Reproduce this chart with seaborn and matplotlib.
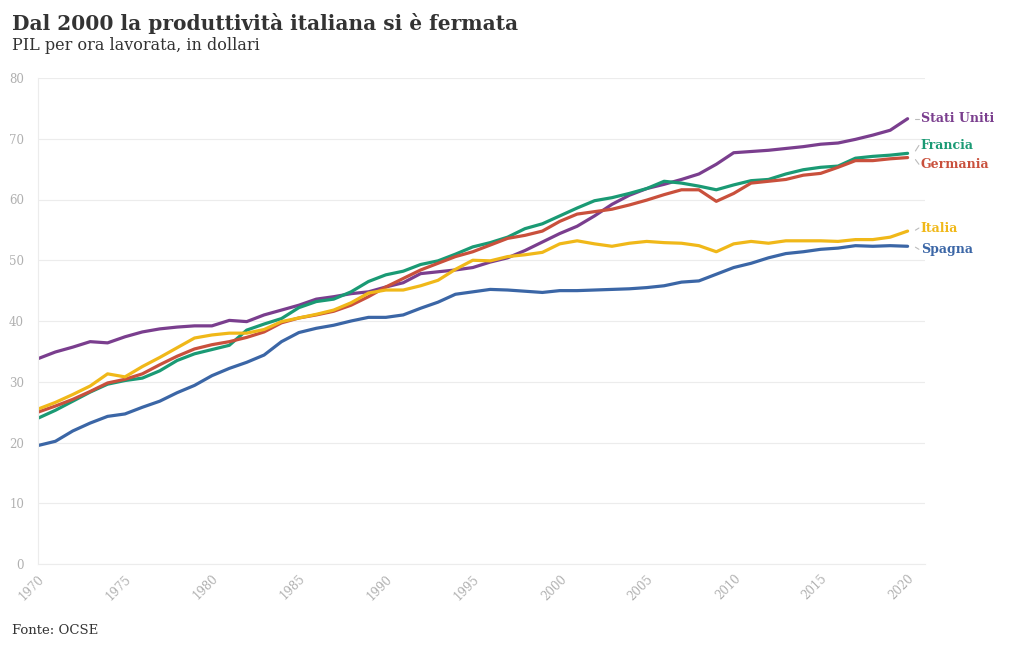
import numpy as np
import pandas as pd
import matplotlib
matplotlib.use("Agg")
import matplotlib.pyplot as plt
import seaborn as sns

years = list(range(1970, 2021))

stati_uniti = [33.8, 34.9, 35.7, 36.6, 36.4, 37.4, 38.2, 38.7, 39.0, 39.2,
               39.2, 40.1, 39.9, 41.0, 41.8, 42.6, 43.6, 44.0, 44.5, 44.8,
               45.6, 46.3, 47.8, 48.1, 48.4, 48.8, 49.7, 50.4, 51.6, 53.0,
               54.4, 55.6, 57.3, 59.2, 60.7, 61.8, 62.5, 63.3, 64.2, 65.8,
               67.7, 67.9, 68.1, 68.4, 68.7, 69.1, 69.3, 69.9, 70.6, 71.4,
               73.3]
francia = [24.0, 25.3, 26.8, 28.3, 29.6, 30.2, 30.6, 31.8, 33.5, 34.6,
           35.3, 36.0, 38.5, 39.5, 40.4, 42.2, 43.2, 43.6, 44.8, 46.5,
           47.6, 48.2, 49.3, 49.9, 51.0, 52.2, 52.9, 53.8, 55.2, 56.0,
           57.3, 58.6, 59.8, 60.3, 61.0, 61.8, 63.0, 62.7, 62.2, 61.6,
           62.4, 63.1, 63.3, 64.2, 64.9, 65.3, 65.5, 66.8, 67.1, 67.3,
           67.6]
germania = [25.0, 26.0, 27.1, 28.4, 29.8, 30.4, 31.3, 32.8, 34.2, 35.4,
            36.1, 36.6, 37.3, 38.2, 39.7, 40.5, 41.0, 41.6, 42.6, 44.0,
            45.6, 47.0, 48.4, 49.5, 50.6, 51.4, 52.5, 53.6, 54.1, 54.8,
            56.4, 57.6, 58.0, 58.4, 59.1, 59.9, 60.8, 61.6, 61.6, 59.7,
            61.0, 62.7, 63.0, 63.3, 64.0, 64.3, 65.3, 66.4, 66.4, 66.7,
            66.9]
italia = [25.5, 26.6, 27.9, 29.3, 31.3, 30.8, 32.5, 34.0, 35.6, 37.2,
          37.7, 38.0, 38.0, 38.6, 39.9, 40.5, 41.1, 41.8, 43.0, 44.6,
          45.1, 45.1, 45.8, 46.7, 48.5, 50.0, 49.9, 50.6, 50.9, 51.3,
          52.7, 53.2, 52.7, 52.3, 52.8, 53.1, 52.9, 52.8, 52.4, 51.4,
          52.7, 53.1, 52.8, 53.2, 53.2, 53.2, 53.1, 53.4, 53.4, 53.8,
          54.8]
spagna = [19.5, 20.2, 21.9, 23.2, 24.3, 24.7, 25.8, 26.8, 28.2, 29.4,
          31.0, 32.2, 33.2, 34.4, 36.6, 38.1, 38.8, 39.3, 40.0, 40.6,
          40.6, 41.0, 42.1, 43.1, 44.4, 44.8, 45.2, 45.1, 44.9, 44.7,
          45.0, 45.0, 45.1, 45.2, 45.3, 45.5, 45.8, 46.4, 46.6, 47.7,
          48.8, 49.5, 50.4, 51.1, 51.4, 51.8, 52.0, 52.4, 52.3, 52.4,
          52.3]

countries = ["Stati Uniti", "Francia", "Germania", "Italia", "Spagna"]
series = [stati_uniti, francia, germania, italia, spagna]
colors = ["#7a3e8e", "#1a9a74", "#c9503c", "#f0b819", "#3b66a6"]
label_values = [73.3, 68.9, 65.8, 55.3, 51.8]

x_ticks = list(range(1970, 2021, 5))
y_ticks = list(range(0, 81, 10))

title = "Dal 2000 la produttività italiana si è fermata"
subtitle = "PIL per ora lavorata, in dollari"
source = "Fonte: OCSE"

df = pd.DataFrame({
    "anno": years * len(countries),
    "valore": sum(series, []),
    "paese": sum([[c] * len(years) for c in countries], []),
})

sns.set_theme(style="white")
plt.rcParams["font.family"] = ["DejaVu Serif", "DejaVu Sans"]

fig = plt.figure(figsize=(10.2, 6.5), dpi=100)
ax = fig.add_axes([38 / 1020, 1 - 564 / 650, (925 - 38) / 1020, (564 - 78) / 650])

palette = dict(zip(countries, colors))
sns.lineplot(data=df, x="anno", y="valore", hue="paese", palette=palette,
             linewidth=2.3, legend=False, ax=ax)

ax.set_xlim(1970, 2021)
ax.set_ylim(0, 80)
ax.set_xticks(x_ticks)
ax.set_yticks(y_ticks)
ax.set_xlabel("")
ax.set_ylabel("")
ax.grid(axis="y", color="#ececec", linewidth=0.8)
ax.grid(axis="x", visible=False)
for s in ["top", "right"]:
    ax.spines[s].set_visible(False)
ax.spines["left"].set_color("#ececec")
ax.spines["bottom"].set_color("#ececec")
ax.spines["left"].set_linewidth(0.8)
ax.spines["bottom"].set_linewidth(0.8)
ax.tick_params(axis="x", colors="#ececec", length=4, width=0.8, labelcolor="#b0b0b0",
               labelsize=8.5, pad=2)
ax.tick_params(axis="y", length=0, labelcolor="#b0b0b0", labelsize=8.5, pad=10)
for lbl in ax.get_xticklabels():
    lbl.set_rotation(45)
    lbl.set_ha("right")
    lbl.set_rotation_mode("anchor")

for name, vals, col, lv in zip(countries, series, colors, label_values):
    end = vals[-1]
    ax.plot([2020.45, 2020.65], [end + (lv - end) * 0.3, lv], color="#bbbbbb",
            linewidth=0.8, clip_on=False)
    ax.text(2020.75, lv, name, color=col, fontsize=9, fontweight="bold",
            va="center", ha="left", clip_on=False)

fig.text(12 / 1020, 1 - 23 / 650, title, fontsize=14.5, fontweight="bold",
         color="#333333", va="center", ha="left")
fig.text(12 / 1020, 1 - 46 / 650, subtitle, fontsize=11.5, color="#333333",
         va="center", ha="left")
fig.text(12 / 1020, 1 - 631 / 650, source, fontsize=9.5, color="#333333",
         va="center", ha="left")

fig.savefig("out.png", dpi=100)
